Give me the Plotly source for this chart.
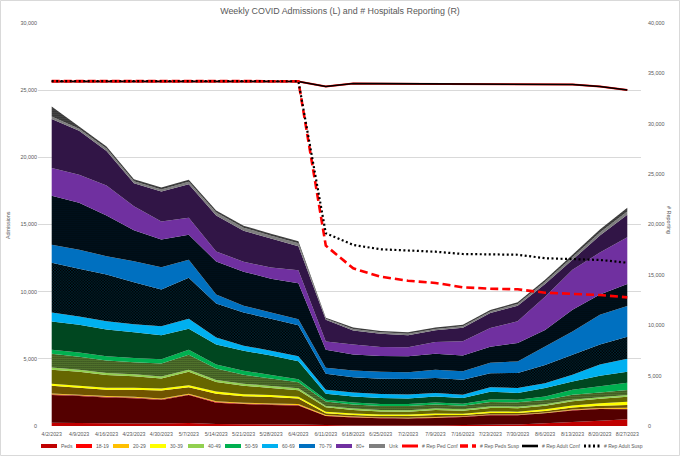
import plotly.graph_objects as go

# ---------------- data ----------------
dates = ["4/2/2023", "4/9/2023", "4/16/2023", "4/23/2023", "4/30/2023", "5/7/2023",
         "5/14/2023", "5/21/2023", "5/28/2023", "6/4/2023", "6/11/2023", "6/18/2023",
         "6/25/2023", "7/2/2023", "7/9/2023", "7/16/2023", "7/23/2023", "7/30/2023",
         "8/6/2023", "8/13/2023", "8/20/2023", "8/27/2023"]

peds_conf = [250, 220, 200, 190, 190, 220, 150, 130, 120, 110, 70, 40, 40, 40, 40, 70, 90, 120, 200, 300, 390, 500]
peds_susp = [2060, 2010, 1920, 1880, 1750, 2080, 1590, 1500, 1440, 1410, 670, 600, 540, 510, 560, 600, 710, 680, 740, 860, 880, 740]
a1819_conf = [20, 20, 20, 20, 20, 20, 20, 20, 20, 20, 15, 15, 15, 15, 15, 15, 15, 15, 15, 15, 15, 15]
a1819_susp = [30, 30, 30, 30, 30, 30, 30, 30, 30, 30, 15, 15, 15, 15, 15, 15, 15, 15, 15, 15, 15, 15]
a2029_conf = [60, 50, 60, 60, 60, 60, 60, 60, 60, 60, 45, 40, 30, 30, 40, 30, 30, 30, 30, 40, 40, 90]
a2029_susp = [570, 520, 460, 510, 600, 480, 560, 480, 480, 420, 130, 110, 110, 130, 150, 90, 110, 100, 110, 150, 170, 200]
a3039_conf = [150, 150, 150, 150, 150, 150, 150, 150, 150, 130, 120, 110, 110, 110, 110, 100, 110, 110, 130, 150, 190, 250]
a3039_susp = [1040, 1040, 950, 860, 740, 1000, 710, 630, 520, 480, 330, 260, 220, 220, 260, 220, 260, 260, 260, 310, 330, 370]
a4049_conf = [170, 150, 160, 150, 150, 150, 150, 150, 150, 150, 100, 110, 110, 110, 110, 110, 110, 110, 110, 110, 110, 130]
a4049_susp = [1020, 970, 920, 890, 970, 1120, 860, 670, 560, 450, 320, 300, 300, 300, 300, 260, 330, 320, 330, 370, 360, 370]
a5059_conf = [300, 320, 320, 330, 300, 370, 300, 300, 260, 220, 130, 150, 150, 150, 150, 150, 200, 200, 250, 370, 450, 540]
a5059_susp = [2110, 2060, 1990, 1900, 1790, 1560, 1490, 1490, 1450, 1340, 450, 450, 450, 410, 450, 420, 570, 500, 630, 620, 800, 820]
a6069_conf = [670, 620, 620, 600, 670, 740, 520, 370, 370, 370, 300, 300, 300, 300, 260, 250, 330, 370, 370, 500, 820, 970]
a6069_susp = [3700, 3550, 3480, 3130, 2750, 3050, 2530, 2460, 2380, 2310, 1190, 1120, 1120, 1150, 1120, 1120, 1040, 1120, 1360, 1490, 1490, 1640]
a7079_conf = [1340, 1410, 1360, 1560, 1640, 1340, 670, 520, 450, 450, 450, 520, 520, 520, 600, 620, 790, 860, 1360, 1730, 2230, 2290]
a7079_susp = [3650, 3500, 3030, 2310, 2080, 1860, 2460, 2530, 2530, 2680, 1340, 1190, 1190, 1190, 1190, 1170, 1190, 1370, 1240, 1620, 1490, 1640]
a80_conf = [2060, 2080, 2230, 1790, 1340, 1270, 740, 740, 820, 970, 620, 740, 670, 670, 890, 1060, 1390, 1610, 2480, 2980, 3130, 3480]
a80_susp = [3650, 3280, 2570, 1710, 2230, 2490, 2680, 2310, 2160, 1790, 1620, 1040, 970, 890, 860, 1020, 1120, 1170, 950, 740, 1270, 1660]
unk_conf = [190, 150, 190, 150, 150, 190, 220, 220, 220, 220, 75, 110, 110, 110, 110, 110, 110, 130, 150, 190, 220, 250]
unk_susp = [740, 170, 150, 150, 150, 150, 150, 150, 150, 150, 75, 110, 110, 110, 110, 110, 110, 120, 150, 190, 220, 280]

rep_adult_conf = [34200, 34210, 34220, 34220, 34230, 34210, 34200, 34200, 34190, 34190, 33700, 34000,
                  33980, 33970, 34000, 33950, 33960, 33970, 33900, 33900, 33700, 33350]
rep_ped_conf = [34200, 34210, 34220, 34220, 34230, 34210, 34200, 34200, 34190, 34190, 33700, 34000,
                33980, 33970, 34000, 33950, 33960, 33970, 33900, 33900, 33700, 33350]
rep_peds_susp = [34230, 34240, 34250, 34250, 34260, 34240, 34230, 34230, 34220, 34220, 17900, 15650,
                 14820, 14420, 14200, 13770, 13630, 13570, 13230, 13100, 13000, 12770]
rep_adult_susp = [34230, 34240, 34250, 34250, 34260, 34240, 34230, 34230, 34220, 34220, 19130, 17970,
                  17540, 17400, 17300, 17070, 17000, 17000, 16650, 16540, 16480, 16210]

group_labels = ["Peds", "18-19", "20-29", "30-39", "40-49", "50-59", "60-69", "70-79", "80+", "Unk"]
group_conf = [peds_conf, a1819_conf, a2029_conf, a3039_conf, a4049_conf, a5059_conf,
              a6069_conf, a7079_conf, a80_conf, unk_conf]
group_susp = [peds_susp, a1819_susp, a2029_susp, a3039_susp, a4049_susp, a5059_susp,
              a6069_susp, a7079_susp, a80_susp, unk_susp]
line_labels = ["# Rep Ped Conf", "# Rep Peds Susp", "# Rep Adult Conf", "# Rep Adult Susp"]

# ---------------- styles ----------------
group_colors = ["#C00000", "#FF0000", "#FFC000", "#FFFF00", "#92D050", "#00B050",
                "#00B0F0", "#0070C0", "#7030A0", "#7F7F7F"]
susp_shape = [".", ".", ".", ".", ".", ".", "x", ".", ".", "."]
susp_solid = [0.5, 0.5, 0.5, 0.45, 0.55, 0.45, 0.15, 0.15, 0.5, 0.55]

FONT = "Liberation Sans, Arial, sans-serif"
TXT = "#595959"
W, H = 680, 456
L, R, T, B = 38, 39, 23, 30
PW, PH = W - L - R, H - T - B


def px_x(px):
    return (px - L) / PW


def px_y(py):
    return (H - B - py) / PH


fig = go.Figure()

for lab, c, s, col, shp, sol in zip(group_labels, group_conf, group_susp, group_colors,
                                     susp_shape, susp_solid):
    fig.add_trace(go.Scatter(x=dates, y=c, name=lab + " Conf", stackgroup="adm", mode="none",
                             fillcolor=col, showlegend=False, hoverinfo="skip"))
    fig.add_trace(go.Scatter(x=dates, y=s, name=lab + " Susp", stackgroup="adm", mode="none",
                             fillcolor="#000000",
                             fillpattern=dict(shape=shp, bgcolor="#000000", fgcolor=col,
                                              size=2, solidity=sol, fillmode="replace"),
                             showlegend=False, hoverinfo="skip"))

line_styles = [dict(color="#FF0000", width=2),
               dict(color="#FF0000", width=2.6, dash="8px,4px"),
               dict(color="#000000", width=1.6),
               dict(color="#000000", width=2.2, dash="2px,2.5px")]
line_data = [rep_ped_conf, rep_peds_susp, rep_adult_conf, rep_adult_susp]
for idx in [0, 2, 1, 3]:
    fig.add_trace(go.Scatter(x=dates, y=line_data[idx], name=line_labels[idx], yaxis="y2",
                             mode="lines", line=line_styles[idx], showlegend=False,
                             hoverinfo="skip"))

# ---------------- manual legend ----------------
leg_y = 446
leg_swatch = [(41, 57), (76, 92), (113, 129), (150, 166), (188, 204), (225, 241),
              (262, 278), (299, 315), (336, 352), (369, 385),
              (402, 418), (460, 476), (522, 538), (584, 600)]
leg_labels = group_labels + line_labels
leg_styles = [dict(color=c, width=4) for c in group_colors] + line_styles
shapes = []
annotations = []
for (x0, x1), lab, st in zip(leg_swatch, leg_labels, leg_styles):
    shapes.append(dict(type="line", xref="paper", yref="paper",
                       x0=px_x(x0), x1=px_x(x1), y0=px_y(leg_y), y1=px_y(leg_y),
                       line=dict(color=st["color"], width=min(st["width"] + 1, 4),
                                 dash=st.get("dash", "solid"))))
    annotations.append(dict(text=lab, xref="paper", yref="paper", x=px_x(x1 + 2),
                            y=px_y(leg_y), xanchor="left", yanchor="middle", showarrow=False,
                            font=dict(family=FONT, size=5.0, color=TXT)))

annotations.append(dict(text="Admissions", xref="paper", yref="paper", x=px_x(8), y=px_y(225),
                        textangle=-90, showarrow=False, xanchor="center", yanchor="middle",
                        font=dict(family=FONT, size=5.4, color=TXT)))
annotations.append(dict(text="# Reporting", xref="paper", yref="paper", x=px_x(669), y=px_y(220),
                        textangle=90, showarrow=False, xanchor="center", yanchor="middle",
                        font=dict(family=FONT, size=5.4, color=TXT)))

shapes.append(dict(type="rect", xref="paper", yref="paper", x0=px_x(0.5), x1=px_x(679.5),
                   y0=px_y(455.5), y1=px_y(0.5), line=dict(color="#D9D9D9", width=1),
                   layer="below"))

fig.update_layout(
    width=W, height=H,
    margin=dict(l=L, r=R, t=T, b=B, autoexpand=False),
    paper_bgcolor="white", plot_bgcolor="white",
    showlegend=False,
    title=dict(text="Weekly COVID Admissions (L) and # Hospitals Reporting (R)",
               x=0.5, xanchor="center", y=1 - 11 / H, yanchor="middle",
               font=dict(family=FONT, size=8.9, color=TXT)),
    xaxis=dict(type="category", range=[-0.5, 21.5], showgrid=False, zeroline=False,
               showline=False, ticks="", tickangle=0, ticklabelstandoff=4,
               tickfont=dict(family=FONT, size=5.2, color=TXT)),
    yaxis=dict(range=[0, 30000], tickvals=[0, 5000, 10000, 15000, 20000, 25000, 30000],
               tickformat=",d", showgrid=True, gridcolor="#D9D9D9", gridwidth=1,
               zeroline=False, showline=False, ticks="",
               tickfont=dict(family=FONT, size=5.4, color=TXT)),
    yaxis2=dict(range=[0, 40000], overlaying="y", side="right",
                tickvals=[0, 5000, 10000, 15000, 20000, 25000, 30000, 35000, 40000],
                tickformat=",d", showgrid=False, zeroline=False, showline=False, ticks="",
                ticklabelstandoff=6,
                tickfont=dict(family=FONT, size=5.4, color=TXT)),
    shapes=shapes,
    annotations=annotations,
)

fig.write_html("out.html", config={"displayModeBar": False},
               post_script="document.body.style.margin='0';")
